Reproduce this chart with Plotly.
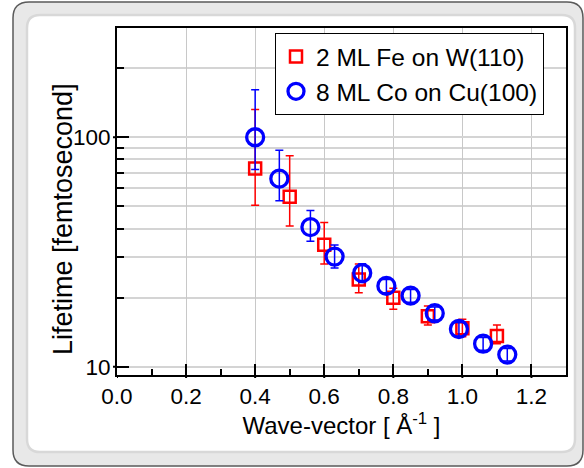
import plotly.graph_objects as go

# Magnon lifetime vs wave-vector for two ultrathin ferromagnetic films
fe_k = [0.40, 0.50, 0.60, 0.70, 0.80, 0.90, 1.00, 1.10]
fe_tau = [73, 55, 34, 24, 20, 16.6, 14.7, 13.6]
fe_err_up = [59, 28, 8.5, 4, 2, 1.8, 1.4, 1.6]
fe_err_dn = [22.5, 14, 6, 3, 2.2, 1.4, 1.2, 1.0]

co_k = [0.40, 0.47, 0.56, 0.63, 0.71, 0.78, 0.85, 0.92, 0.99, 1.06, 1.13]
co_tau = [100, 66, 40.6, 30.2, 25.6, 22.5, 20.4, 17.1, 14.6, 12.6, 11.3]
co_err_up = [61, 21.7, 7.4, 3.7, 2.5, 1.5, 1.3, 1.1, 1.0, 0.8, 0.7]
co_err_dn = [27.7, 13.1, 5.4, 3.3, 2.3, 1.5, 1.3, 1.1, 1.0, 0.8, 0.7]

x_ticks = [0.0, 0.2, 0.4, 0.6, 0.8, 1.0, 1.2]
x_minor = [0.1, 0.3, 0.5, 0.7, 0.9, 1.1]
y_ticks = [10, 100]
y_minor = [20, 30, 40, 50, 60, 70, 80, 90, 200]

FONT = "Liberation Sans, Arial, sans-serif"
W, H = 584, 468
ML, MR, MT, MB = 117, 18, 28, 93
PW, PH = W - ML - MR, H - MT - MB


def to_paper(px, py):
    return (px - ML) / PW, (H - MB - py) / PH


def rounded_rect(x0, y0, x1, y1, r):
    # rounded rectangle in pixel units, converted to paper coordinates
    def p(x, y):
        a, b = to_paper(x, y)
        return f"{a:.5f},{b:.5f}"
    parts = [
        "M " + p(x0 + r, y0),
        "L " + p(x1 - r, y0),
        "Q " + p(x1, y0) + " " + p(x1, y0 + r),
        "L " + p(x1, y1 - r),
        "Q " + p(x1, y1) + " " + p(x1 - r, y1),
        "L " + p(x0 + r, y1),
        "Q " + p(x0, y1) + " " + p(x0, y1 - r),
        "L " + p(x0, y0 + r),
        "Q " + p(x0, y0) + " " + p(x0 + r, y0),
    ]
    return " ".join(parts) + " Z"


fig = go.Figure()

fig.add_trace(go.Scatter(
    x=fe_k, y=fe_tau, mode="markers", name="2 ML Fe on W(110)",
    marker=dict(symbol="square-open", size=12, color="#ff0000",
                line=dict(width=2.5, color="#ff0000")),
    error_y=dict(type="data", symmetric=False, array=fe_err_up,
                 arrayminus=fe_err_dn, color="#ff0000", thickness=1.5, width=4),
))

fig.add_trace(go.Scatter(
    x=co_k, y=co_tau, mode="markers", name="8 ML Co on Cu(100)",
    marker=dict(symbol="circle-open", size=17, color="#0000ff",
                line=dict(width=3.3, color="#0000ff")),
    error_y=dict(type="data", symmetric=False, array=co_err_up,
                 arrayminus=co_err_dn, color="#0000ff", thickness=1.5, width=4),
))

# frame behind the chart
shapes = [
    dict(type="path", xref="paper", yref="paper", layer="below",
         path=rounded_rect(13, 2, 583, 466, 16),
         fillcolor="#e8e8e8", line=dict(color="#5a5a5a", width=1.5)),
    dict(type="path", xref="paper", yref="paper", layer="below",
         path=rounded_rect(27, 15, 575, 452, 13),
         fillcolor="#ffffff", line=dict(color="#d8d8d8", width=2.5)),
]

# short outer stubs so the major ticks cross the axis lines
for v in x_ticks:
    shapes.append(dict(type="line", xref="x", yref="paper",
                       ysizemode="pixel", yanchor=0, x0=v, x1=v, y0=-3, y1=0,
                       line=dict(color="#000000", width=2)))
for v in y_ticks:
    shapes.append(dict(type="line", xref="paper", yref="y",
                       xsizemode="pixel", xanchor=0, y0=v, y1=v, x0=-4, x1=0,
                       line=dict(color="#000000", width=2)))

ytx, yty = to_paper(63, 219)

fig.update_layout(
    width=W, height=H, autosize=False,
    margin=dict(l=ML, r=MR, t=MT, b=MB, pad=0),
    paper_bgcolor="#ffffff", plot_bgcolor="rgba(0,0,0,0)",
    font=dict(family=FONT, color="#000000", size=22),
    shapes=shapes,
    showlegend=True,
    legend=dict(x=to_paper(275, 0)[0], y=to_paper(0, 33)[1],
                xanchor="left", yanchor="top",
                bgcolor="#ffffff", bordercolor="#000000", borderwidth=1,
                font=dict(family=FONT, size=24.5), tracegroupgap=0),
    xaxis=dict(
        range=[0, 1.3], tickvals=x_ticks,
        ticktext=[f"{v:.1f}" for v in x_ticks],
        ticks="inside", ticklen=11, tickwidth=2, tickcolor="#000000",
        showline=True, linecolor="#000000", linewidth=2, mirror=True,
        showgrid=True, gridcolor="#c8c8c8", gridwidth=1,
        zeroline=False,
        minor=dict(tickvals=x_minor, ticks="inside", ticklen=6,
                   tickwidth=1.5, tickcolor="#000000", showgrid=False),
        tickfont=dict(size=22.5),
        title=dict(text="Wave-vector [ Å<sup>-1</sup> ]",
                   font=dict(size=24), standoff=6),
    ),
    yaxis=dict(
        type="log", range=[0.964, 2.476], tickvals=y_ticks,
        ticktext=[str(v) for v in y_ticks],
        ticks="inside", ticklen=12, tickwidth=2, tickcolor="#000000",
        showline=True, linecolor="#000000", linewidth=2, mirror=True,
        showgrid=True, gridcolor="#d4d4d4", gridwidth=1.5,
        zeroline=False,
        minor=dict(tickvals=y_minor, ticks="inside", ticklen=7,
                   tickwidth=1.5, tickcolor="#000000", showgrid=True,
                   gridcolor="#d4d4d4", gridwidth=1.5),
        tickfont=dict(size=22.5),
    ),
    annotations=[dict(
        text="Lifetime [femtosecond]", textangle=-90,
        xref="paper", yref="paper", x=ytx, y=yty,
        xanchor="center", yanchor="middle", showarrow=False,
        font=dict(family=FONT, size=27, color="#000000"),
    )],
)

fig.write_html("out.html")
